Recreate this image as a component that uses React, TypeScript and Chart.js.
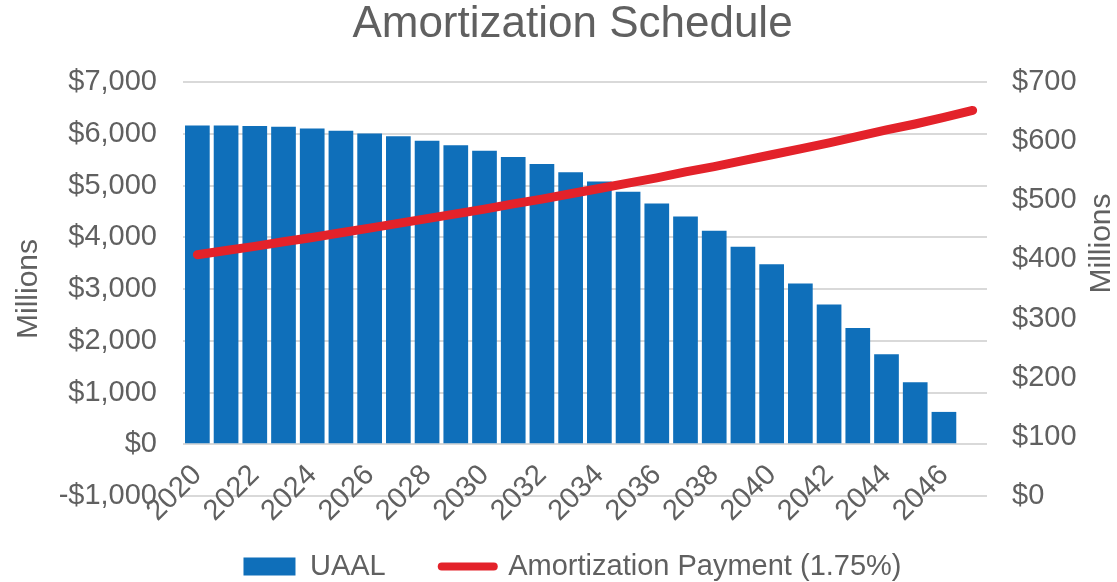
import React, { useEffect, useRef } from 'react';
import { Chart, registerables } from 'chart.js';

Chart.register(...registerables);

// ---- data ----
const years = [
  '2020', '2021', '2022', '2023', '2024', '2025', '2026', '2027', '2028', '2029',
  '2030', '2031', '2032', '2033', '2034', '2035', '2036', '2037', '2038', '2039',
  '2040', '2041', '2042', '2043', '2044', '2045', '2046', '2047',
];

// UAAL, $ millions (left axis)
const uaal = [
  6160, 6160, 6150, 6135, 6100, 6060, 6005, 5950, 5865, 5780,
  5670, 5550, 5415, 5255, 5075, 4880, 4650, 4400, 4125, 3815,
  3480, 3105, 2700, 2245, 1740, 1200, 625, null,
];

// Amortization payment, $ millions (right axis)
const payment = [
  408, 415, 422, 430, 437, 445, 453, 461, 469, 477,
  485, 494, 502, 511, 520, 529, 538, 548, 557, 567,
  577, 587, 597, 608, 619, 629, 640, 652,
];

const leftRange = [-1000, 7000, 1000];
const rightRange = [0, 700, 100];

const seriesNames = ['UAAL', 'Amortization Payment (1.75%)'];
const chartTitle = 'Amortization Schedule';
const axisTitle = 'Millions';

const BLUE = '#0F6FBA';
const RED = '#E3222A';
const TEXT = '#606060';
const GRID = '#d9d9d9';
const FONT = "'Liberation Sans', Arial, sans-serif";

const money = (v: number) =>
  (v < 0 ? '-$' : '$') + Math.abs(v).toLocaleString('en-US');

export default function App() {
  const ref = useRef<HTMLCanvasElement>(null);

  useEffect(() => {
    const canvas = ref.current;
    if (!canvas) return;

    const rightTitle = {
      id: 'rightTitle',
      afterDraw(chart: any) {
        const { ctx, chartArea } = chart;
        const s = chart.scales.y1;
        ctx.save();
        ctx.translate(s.right - 15, chartArea.top + (chartArea.bottom - chartArea.top) * 0.39);
        ctx.rotate(-Math.PI / 2);
        ctx.font = `30px ${FONT}`;
        ctx.fillStyle = TEXT;
        ctx.textAlign = 'center';
        ctx.textBaseline = 'middle';
        ctx.fillText(axisTitle, 0, 0);
        ctx.restore();
      },
    };

    const chart = new Chart(canvas, {
      type: 'bar',
      data: {
        labels: years,
        datasets: [
          {
            type: 'bar',
            label: seriesNames[0],
            data: uaal,
            backgroundColor: BLUE,
            yAxisID: 'y',
            order: 2,
            categoryPercentage: 1,
            barPercentage: 0.86,
          } as any,
          {
            type: 'line',
            label: seriesNames[1],
            data: payment,
            borderColor: RED,
            backgroundColor: RED,
            borderWidth: 9,
            borderCapStyle: 'round',
            borderJoinStyle: 'round',
            pointRadius: 0,
            tension: 0,
            yAxisID: 'y1',
            order: 1,
          } as any,
        ],
      },
      options: {
        responsive: false,
        animation: false,
        layout: { padding: { left: 28, right: 0, top: 0, bottom: -9 } },
        plugins: {
          title: {
            display: true,
            text: chartTitle,
            color: TEXT,
            font: { family: FONT, size: 44, weight: 'normal', lineHeight: 1 },
            padding: { top: 3, bottom: 35 },
          },
          legend: {
            position: 'bottom',
            labels: {
              usePointStyle: true,
              pointStyleWidth: 52,
              boxHeight: 18,
              padding: 56,
              color: TEXT,
              font: { family: FONT, size: 29 },
              generateLabels: () => [
                {
                  text: seriesNames[0],
                  fillStyle: BLUE,
                  strokeStyle: BLUE,
                  lineWidth: 0,
                  pointStyle: 'rect',
                  datasetIndex: 0,
                  hidden: false,
                  fontColor: TEXT,
                },
                {
                  text: seriesNames[1],
                  fillStyle: RED,
                  strokeStyle: RED,
                  lineWidth: 8,
                  lineCap: 'round',
                  pointStyle: 'line',
                  datasetIndex: 1,
                  hidden: false,
                  fontColor: TEXT,
                },
              ] as any,
            },
          },
          tooltip: { enabled: false },
        },
        scales: {
          x: {
            type: 'category',
            position: { y: 0 } as any,
            offset: true,
            grid: { display: false, drawTicks: false },
            border: { display: false },
            ticks: {
              autoSkip: false,
              maxRotation: 45,
              minRotation: 45,
              padding: 14,
              color: TEXT,
              font: { family: FONT, size: 29 },
              callback: (_v: any, i: number) => (i % 2 === 0 ? years[i] : ''),
            },
          },
          y: {
            position: 'left',
            min: leftRange[0],
            max: leftRange[1],
            ticks: {
              stepSize: leftRange[2],
              padding: 26,
              color: TEXT,
              font: { family: FONT, size: 29 },
              callback: (v: any) => money(Number(v)),
            },
            grid: { color: GRID, lineWidth: 2, drawTicks: false },
            border: { display: false },
            title: {
              display: true,
              text: axisTitle,
              color: TEXT,
              font: { family: FONT, size: 30, lineHeight: 1 },
              padding: { top: -14, bottom: 0 },
            },
            afterFit: (s: any) => {
              s.width = 155;
            },
          },
          y1: {
            position: 'right',
            min: rightRange[0],
            max: rightRange[1],
            ticks: {
              stepSize: rightRange[2],
              padding: 25,
              color: TEXT,
              font: { family: FONT, size: 29 },
              callback: (v: any) => money(Number(v)),
            },
            grid: { display: false, drawTicks: false },
            border: { display: false },
            afterFit: (s: any) => {
              s.width = 130;
            },
          },
        },
      } as any,
      plugins: [rightTitle],
    });

    return () => chart.destroy();
  }, []);

  return (
    <div style={{ position: 'fixed', left: 0, top: 0, width: 1117, height: 582, background: '#fff' }}>
      <canvas ref={ref} width={1117} height={582} style={{ display: 'block' }} />
    </div>
  );
}
